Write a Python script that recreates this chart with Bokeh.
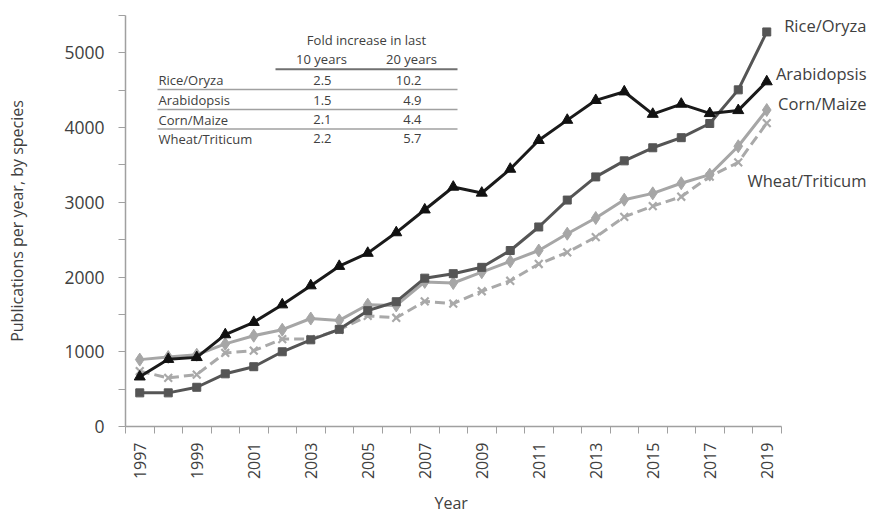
import math
from bokeh.plotting import figure
from bokeh.models import Range1d, FixedTicker, Label, Title
from bokeh.embed import file_html
from bokeh.resources import INLINE

# ---------------- data ----------------
years = list(range(1997, 2020))
rice = [450, 450, 525, 705, 800, 1000, 1160, 1300, 1550, 1670, 1985, 2045, 2130,
        2355, 2670, 3030, 3340, 3555, 3730, 3865, 4055, 4505, 5280]
arabidopsis = [665, 900, 925, 1230, 1395, 1630, 1885, 2145, 2320, 2595, 2900, 3205,
               3125, 3445, 3830, 4100, 4365, 4480, 4180, 4315, 4190, 4230, 4615]
corn = [895, 930, 960, 1105, 1215, 1295, 1445, 1420, 1630, 1620, 1935, 1920, 2065,
        2210, 2355, 2580, 2790, 3035, 3120, 3255, 3370, 3750, 4235]
wheat = [740, 650, 695, 985, 1015, 1170, 1170, 1295, 1480, 1455, 1675, 1645, 1810,
         1950, 2175, 2330, 2535, 2805, 2950, 3075, 3345, 3535, 4060]

species = ["Rice/Oryza", "Arabidopsis", "Corn/Maize", "Wheat/Triticum"]
fold10 = ["2.5", "1.5", "2.1", "2.2"]
fold20 = ["10.2", "4.9", "4.4", "5.7"]

x_tick_labels = [str(y) for y in range(1997, 2020, 2)]
y_major = [0, 1000, 2000, 3000, 4000, 5000]
y_minor = [500, 1500, 2500, 3500, 4500, 5500]

FONT = "Open Sans"
TXT = "#404040"
AX = "#a0a0a0"

W, H = 869, 521
LEFT, TOP, BOTTOM_Y = 125, 15, 427
PX_PER_YEAR = 28.5
x_end = 1996.5 + (W - LEFT) / PX_PER_YEAR

p = figure(width=W, height=H, output_backend="svg", toolbar_location=None,
           x_range=Range1d(1996.5, x_end), y_range=Range1d(0, 5500),
           min_border_left=LEFT, min_border_right=0, min_border_top=TOP,
           min_border_bottom=H - BOTTOM_Y)
p.outline_line_color = None
p.grid.visible = False
p.background_fill_color = "white"
p.border_fill_color = "white"

# x axis
xa = p.xaxis[0]
xa.bounds = (1996.5, 2019.5)
xa.ticker = FixedTicker(ticks=list(range(1997, 2020, 2)),
                        minor_ticks=[y - 0.5 for y in range(1997, 2021)])
xa.major_label_overrides = {int(t): t for t in x_tick_labels}
xa.major_tick_out = 0
xa.major_tick_in = 0
xa.minor_tick_out = 7
xa.minor_tick_in = 0
xa.minor_tick_line_color = AX
xa.axis_line_color = AX
xa.axis_line_width = 1.5
xa.major_label_orientation = math.pi / 2
xa.major_label_standoff = 9
xa.major_label_text_font = FONT
xa.major_label_text_font_size = "16px"
xa.major_label_text_color = TXT

# "Year" title centred under the bounded axis (frame extends right for labels)
p.add_layout(Title(text="Year", align="left", offset=(452 - LEFT) - 18,
                   text_font=FONT, text_font_style="normal", text_font_size="16px",
                   text_color=TXT, standoff=15), "below")

# y axis
ya = p.yaxis[0]
ya.ticker = FixedTicker(ticks=y_major, minor_ticks=y_minor)
ya.major_tick_out = 7
ya.major_tick_in = 0
ya.minor_tick_out = 7
ya.minor_tick_in = 0
ya.major_tick_line_color = AX
ya.minor_tick_line_color = AX
ya.axis_line_color = AX
ya.axis_line_width = 1.5
ya.major_label_standoff = 14
ya.major_label_text_font = FONT
ya.major_label_text_font_size = "17.5px"
ya.major_label_text_color = TXT
ya.axis_label = "Publications per year, by species"
ya.axis_label_text_font = FONT
ya.axis_label_text_font_style = "normal"
ya.axis_label_text_font_size = "16px"
ya.axis_label_text_color = TXT
ya.axis_label_standoff = 33

# series
p.line(years, wheat, line_color="#a9a9a9", line_width=3, line_dash="10 5")
p.scatter(years, wheat, marker="x", size=11, line_color="#a9a9a9", line_width=2.2)
p.line(years, corn, line_color="#a6a6a6", line_width=3)
p.scatter(years, corn, marker="diamond", size=13, fill_color="#a6a6a6", line_color="#a6a6a6")
p.line(years, rice, line_color="#555555", line_width=3)
p.scatter(years, rice, marker="square", size=8, fill_color="#555555", line_color="#555555")
p.line(years, arabidopsis, line_color="#1a1a1a", line_width=3)
p.scatter(years, arabidopsis, marker="triangle", size=11, fill_color="#111111", line_color="#111111")

# helpers: reference pixel -> data coordinate (for annotations only)
def px_x(px):
    return 1996.5 + (px - LEFT) / PX_PER_YEAR

def px_y(py):
    return (BOTTOM_Y - py) / (BOTTOM_Y - TOP) * 5500

def add_text(txt, x, y, size, align="left"):
    p.add_layout(Label(x=px_x(x), y=px_y(y), text=txt, text_font=FONT,
                       text_font_size=size, text_color=TXT, text_align=align,
                       text_baseline="middle"))

# series end labels
add_text("Rice/Oryza", 866, 25, "16.5px", "right")
add_text("Arabidopsis", 866, 73, "16.5px", "right")
add_text("Corn/Maize", 866, 103, "16.5px", "right")
add_text("Wheat/Triticum", 866, 180, "16.5px", "right")

# table
add_text("Fold increase in last", 366, 40, "13px", "center")
add_text("10 years", 321, 59, "13px", "center")
add_text("20 years", 411, 59, "13px", "center")
row_y = [80, 100, 119.5, 138.5]
for name, a, b, ry in zip(species, fold10, fold20, row_y):
    add_text(name, 158, ry, "13px", "left")
    add_text(a, 331, ry, "13px", "right")
    add_text(b, 421, ry, "13px", "right")

p.segment(x0=[px_x(275)], y0=[px_y(69)], x1=[px_x(457)], y1=[px_y(69)],
          line_color="#707070", line_width=2)
sep_y = [89.3, 109.3, 128.7]
p.segment(x0=[px_x(157)] * 3, y0=[px_y(v) for v in sep_y],
          x1=[px_x(457)] * 3, y1=[px_y(v) for v in sep_y],
          line_color="#a0a0a0", line_width=1.5)

open("out.html", "w").write(file_html(p, INLINE))
